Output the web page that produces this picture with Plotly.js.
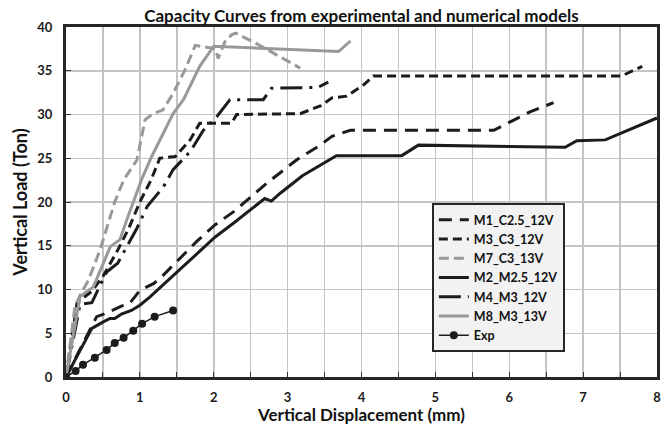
<!DOCTYPE html>
<html><head><meta charset="utf-8">
<script src="https://cdn.plot.ly/plotly-3.0.1.min.js"></script>
<style>html,body{margin:0;padding:0;background:#fff}#chart{width:670px;height:425px}</style>
</head><body><div id="chart"></div>
<script>
// Series values (x: displacement mm, y: load Ton)
const m1_x = [0,0.415,0.55,0.75,0.86,1.0,1.19,1.3,1.77,2.02,2.27,2.74,3.12,3.44,3.6,3.85,5.79,5.97,6.28,6.6];
const m1_y = [0,6.9,7.3,8.1,8.4,9.9,10.7,11.5,15.5,17.4,18.9,22.3,24.8,26.5,27.5,28.2,28.2,29.0,30.3,31.35];

const m3_x = [0,0.15,0.35,0.5,0.7,0.85,1.0,1.15,1.27,1.48,1.68,1.81,2.24,2.31,3.17,3.45,3.6,3.8,4.03,4.16,7.52,7.8];
const m3_y = [0,8.5,9.8,11.5,14.5,17,20,22.5,25,25.2,27.1,29.0,29.0,30.0,30.1,31.0,31.9,32.1,33.4,34.4,34.4,35.5];

const m7_x = [0,0.12,0.2,0.3,0.46,0.66,0.78,0.96,1.07,1.18,1.31,1.45,1.61,1.75,1.86,2.02,2.06,2.15,2.24,2.3,2.58,3.17];
const m7_y = [0,8,9.5,11,14.5,20,22.5,24.8,29.4,30.1,30.5,32.4,35.1,37.9,37.75,37.55,36.4,38.3,39.1,39.3,38.1,35.3];

const m2_x = [0,0.35,0.505,0.595,0.66,0.75,0.885,1.0,1.13,1.68,2.02,2.27,2.5,2.69,2.78,2.9,3.2,3.66,4.545,4.77,6.757,6.915,7.3,8.0];
const m2_y = [0,5.56,6.3,6.7,6.7,7.2,7.6,8.2,9.1,13.4,16.0,17.6,19.1,20.4,20.1,21.0,23.0,25.3,25.3,26.5,26.25,27.0,27.1,29.6];

const m4_x = [0,0.19,0.35,0.55,0.7,0.96,1.1,1.32,1.45,1.68,1.86,2.04,2.22,2.67,2.78,3.41,3.55];
const m4_y = [0,8.3,8.5,12,13,17,19.5,21.75,23.7,25.75,28.2,29.75,31.7,31.7,33.0,33.1,33.7];

const m8_x = [0,0.19,0.37,0.6,0.73,0.82,1.02,1.16,1.45,1.59,1.81,2.0,3.69,3.85];
const m8_y = [0,9.2,10.3,14.9,15.7,17.9,22.5,25.2,30.1,31.7,35.5,37.8,37.2,38.4];

const exp_x = [0,0.13,0.23,0.39,0.55,0.66,0.78,0.91,1.03,1.2,1.45];
const exp_y = [0,0.7,1.4,2.2,3.1,3.9,4.5,5.3,6.1,6.9,7.6];

const seriesNames = ["M1_C2.5_12V","M3_C3_12V","M7_C3_13V","M2_M2.5_12V","M4_M3_12V","M8_M3_13V","Exp"];
const xTickVals = [0,1,2,3,4,5,6,7,8];
const yTickVals = [0,5,10,15,20,25,30,35,40];

const BLACK = '#1c1c1c', GRAY = '#999999';
const FONT = 'Lato, "Open Sans", sans-serif';

function tr(x, y, name, color, width, dash, i, extra) {
  return Object.assign({
    x: x, y: y, name: name, type: 'scatter', mode: 'lines',
    line: {color: color, width: width, dash: dash},
    legendgroup: 'g' + i
  }, extra || {});
}

const data = [
  tr(m1_x, m1_y, seriesNames[0], BLACK, 3, '13px,8px', 0),
  tr(m3_x, m3_y, seriesNames[1], BLACK, 3, '9px,5px', 1),
  tr(m7_x, m7_y, seriesNames[2], GRAY, 3, '10px,5px', 2),
  tr(m2_x, m2_y, seriesNames[3], BLACK, 3, 'solid', 3),
  tr(m4_x, m4_y, seriesNames[4], BLACK, 3, '22px,7px,3px,7px', 4),
  tr(m8_x, m8_y, seriesNames[5], GRAY, 3, 'solid', 5),
  tr(exp_x, exp_y, seriesNames[6], BLACK, 1.5, 'solid', 6,
     {mode: 'lines+markers', marker: {symbol: 'circle', size: 8, color: BLACK}})
];

const layout = {
  width: 670, height: 425,
  margin: {l: 66, r: 13, t: 27, b: 48},
  paper_bgcolor: '#ffffff', plot_bgcolor: '#ffffff',
  font: {family: FONT, color: '#1a1a1a', size: 12, weight: 'bold'},
  title: {text: '<b>Capacity Curves from experimental and numerical models</b>',
          font: {family: FONT, size: 17, color: '#111'},
          x: 0.5, xref: 'paper', xanchor: 'center', y: 0.962, yref: 'container', yanchor: 'middle'},
  xaxis: {
    range: [0, 8], tickvals: xTickVals, ticktext: xTickVals.map(String),
    showgrid: true, gridcolor: '#c4c4c4', gridwidth: 1.5,
    minor: {dtick: 0.5, showgrid: true, gridcolor: '#c4c4c4', gridwidth: 1.5, ticks: 'inside', ticklen: 5, tickcolor: '#333'},
    ticks: 'inside', ticklen: 5, tickcolor: '#333', tickwidth: 1,
    showline: true, linecolor: '#262626', linewidth: 3, mirror: true,
    zeroline: false, ticklabelstandoff: 6,
    tickfont: {family: FONT, size: 13, color: '#1a1a1a', weight: 'bold'},
    title: {text: '<b>Vertical Displacement (mm)</b>', font: {family: FONT, size: 17, color: '#111'}, standoff: 5}
  },
  yaxis: {
    range: [0, 40], tickvals: yTickVals, ticktext: yTickVals.map(String),
    showgrid: true, gridcolor: '#c4c4c4', gridwidth: 1.5,
    ticks: 'inside', ticklen: 5, tickcolor: '#333',
    showline: true, linecolor: '#262626', linewidth: 3, mirror: true,
    zeroline: false, ticklabelstandoff: 8,
    tickfont: {family: FONT, size: 13, color: '#1a1a1a', weight: 'bold'},
    title: {text: '<b>Vertical Load (Ton)</b>', font: {family: FONT, size: 18, color: '#111'}, standoff: 6}
  },
  showlegend: true,
  legend: {
    x: 0.619, y: 0.497, xanchor: 'left', yanchor: 'top',
    bgcolor: '#f2f2f2', bordercolor: '#262626', borderwidth: 2,
    font: {family: FONT, size: 12.5, color: '#111', weight: 'bold'},
    tracegroupgap: 3, traceorder: 'normal'
  }
};

Plotly.newPlot('chart', data, layout, {staticPlot: true, displayModeBar: false});
</script></body></html>
